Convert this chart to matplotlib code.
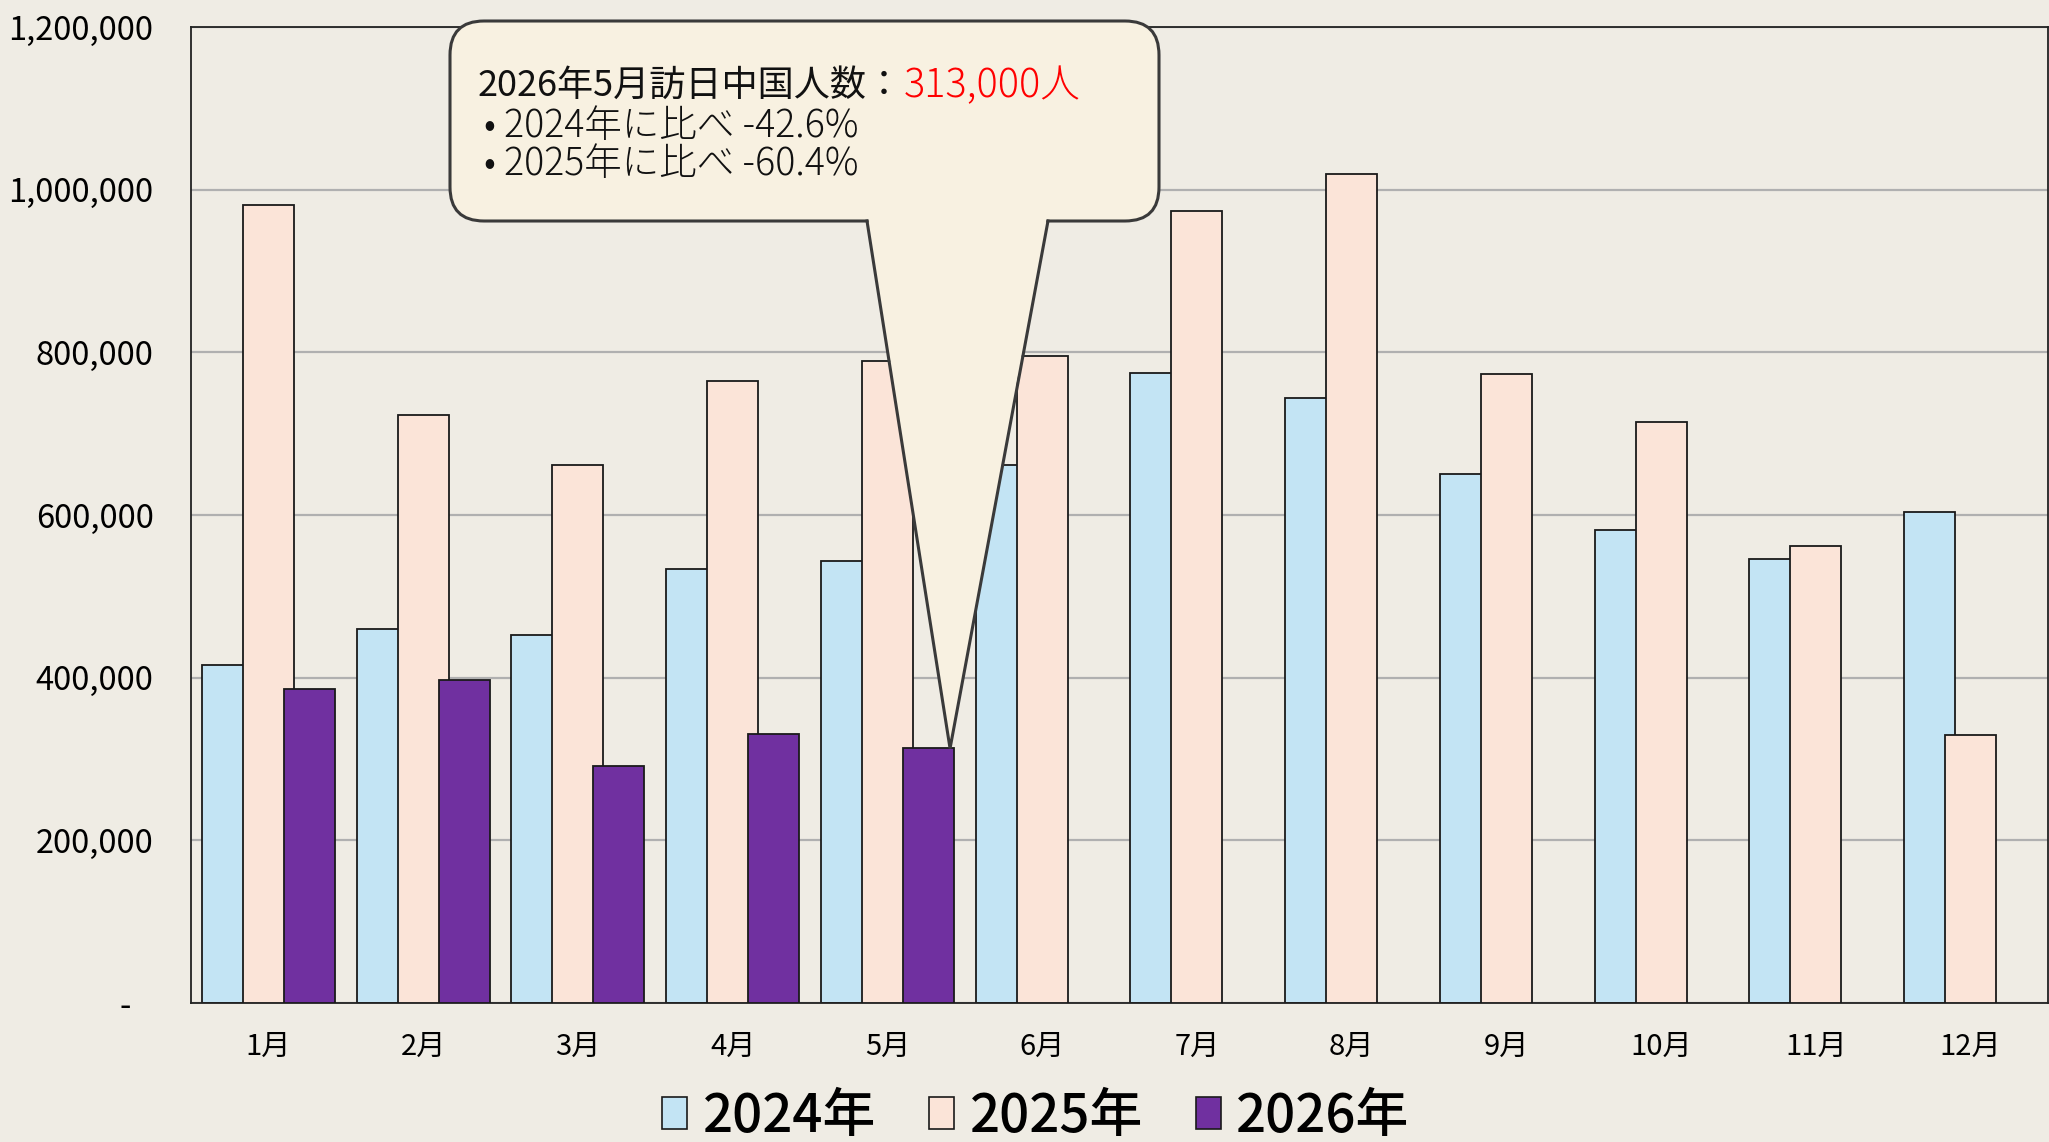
import numpy as np
import matplotlib
matplotlib.use("Agg")
import matplotlib.pyplot as plt
from matplotlib.patches import FancyBboxPatch, Polygon
from matplotlib.ticker import FuncFormatter

plt.rcParams['font.family'] = ['Noto Sans CJK JP', 'DejaVu Sans']

months = ['1月', '2月', '3月', '4月', '5月', '6月', '7月', '8月', '9月', '10月', '11月', '12月']
years = ['2024年', '2025年', '2026年']
v2024 = [416000, 460000, 453000, 533000, 544000, 661000, 775000, 744000, 651000, 581000, 546000, 604000]
v2025 = [981000, 723000, 661000, 765000, 789000, 796000, 974000, 1019000, 773000, 714000, 562000, 330000]
v2026 = [386000, 397000, 291000, 331000, 313000]
colors = ['#c3e4f4', '#fbe4d8', '#7030a0']

callout_title = '2026年5月訪日中国人数：'
callout_value = '313,000人'
callout_lines = ['• 2024年に比べ -42.6%', '• 2025年に比べ -60.4%']

W, H = 2049, 1142
bg = '#efece4'
fig = plt.figure(figsize=(W / 100, H / 100), dpi=100, facecolor=bg)
ax = fig.add_axes([191 / W, 1 - 1003 / H, 1857 / W, 976 / H], facecolor=bg)

x = np.arange(len(months))
off, bw = 0.265, 0.33
series = [v2024, v2025, v2026]
for i, (vals, c, lab) in enumerate(zip(series, colors, years)):
    xs = x[:len(vals)] + (i - 1) * off
    ax.bar(xs, vals, width=bw, color=c, edgecolor='#1a1a1a', linewidth=1.3,
           label=lab, zorder=2 + i)

ax.set_xlim(-0.5, 11.5)
ax.set_ylim(0, 1200000)
ax.set_yticks(np.arange(0, 1200001, 200000))
ax.yaxis.set_major_formatter(FuncFormatter(lambda v, p: '-   ' if v == 0 else f'{int(v):,}'))
ax.set_xticks(x)
ax.set_xticklabels(months)
ax.tick_params(axis='y', length=0, pad=27, labelsize=23.5)
ax.tick_params(axis='x', length=0, pad=21, labelsize=21)
ax.grid(axis='y', color='#b0b0b0', linewidth=1.6, zorder=0)
ax.set_axisbelow(True)
for s in ax.spines.values():
    s.set_color('#222222')
    s.set_linewidth(1.3)

leg = ax.legend(loc='center', bbox_to_anchor=(1036 / W, 1 - 1117 / H),
                bbox_transform=fig.transFigure, ncol=3, frameon=False,
                prop={'size': 38, 'weight': 'medium'},
                handlelength=0.47, handleheight=0.55,
                handletextpad=0.3, columnspacing=1.0, borderpad=0)
for h in leg.legend_handles:
    h.set_edgecolor('#1a1a1a')
    h.set_linewidth(1.2)

# callout overlay in image pixel coords
ov = fig.add_axes([0, 0, 1, 1], facecolor='none')
ov.set_xlim(0, W)
ov.set_ylim(H, 0)
ov.axis('off')

fig.canvas.draw()
tip_disp = ax.transData.transform((4 + off + 0.14, v2026[4]))
tx, ty = ov.transData.inverted().transform(tip_disp)

fill = '#f8f1e1'
edge = '#3a3a3a'
bx0, bx1, by0, by1 = 450, 1159, 21, 221
box = FancyBboxPatch((bx0, by0), bx1 - bx0, by1 - by0,
                     boxstyle='round,pad=0,rounding_size=34',
                     facecolor=fill, edgecolor=edge, linewidth=2.2, zorder=10)
ov.add_patch(box)
pl, pr = 867, 1048
tri = Polygon([(pl + 1, by1 - 4), (pr - 1, by1 - 4), (tx, ty)], closed=True,
              facecolor=fill, edgecolor='none', zorder=11)
ov.add_patch(tri)
ov.plot([pl, tx, pr], [by1, ty, by1], color=edge, linewidth=2.2, zorder=12,
        solid_joinstyle='miter')

ov.text(478, 86, callout_title, fontsize=26, color='#111111',
        va='center', ha='left', zorder=13, fontweight='normal')
ov.text(904, 86, callout_value, fontsize=28.5, color='#ff0000',
        va='center', ha='left', zorder=13, fontweight='light')
for k, line in enumerate(callout_lines):
    ov.text(484, 126 + k * 38, line, fontsize=27, color='#111111',
            va='center', ha='left', zorder=13, fontweight='light')

fig.savefig('out.png', dpi=100, facecolor=bg)
